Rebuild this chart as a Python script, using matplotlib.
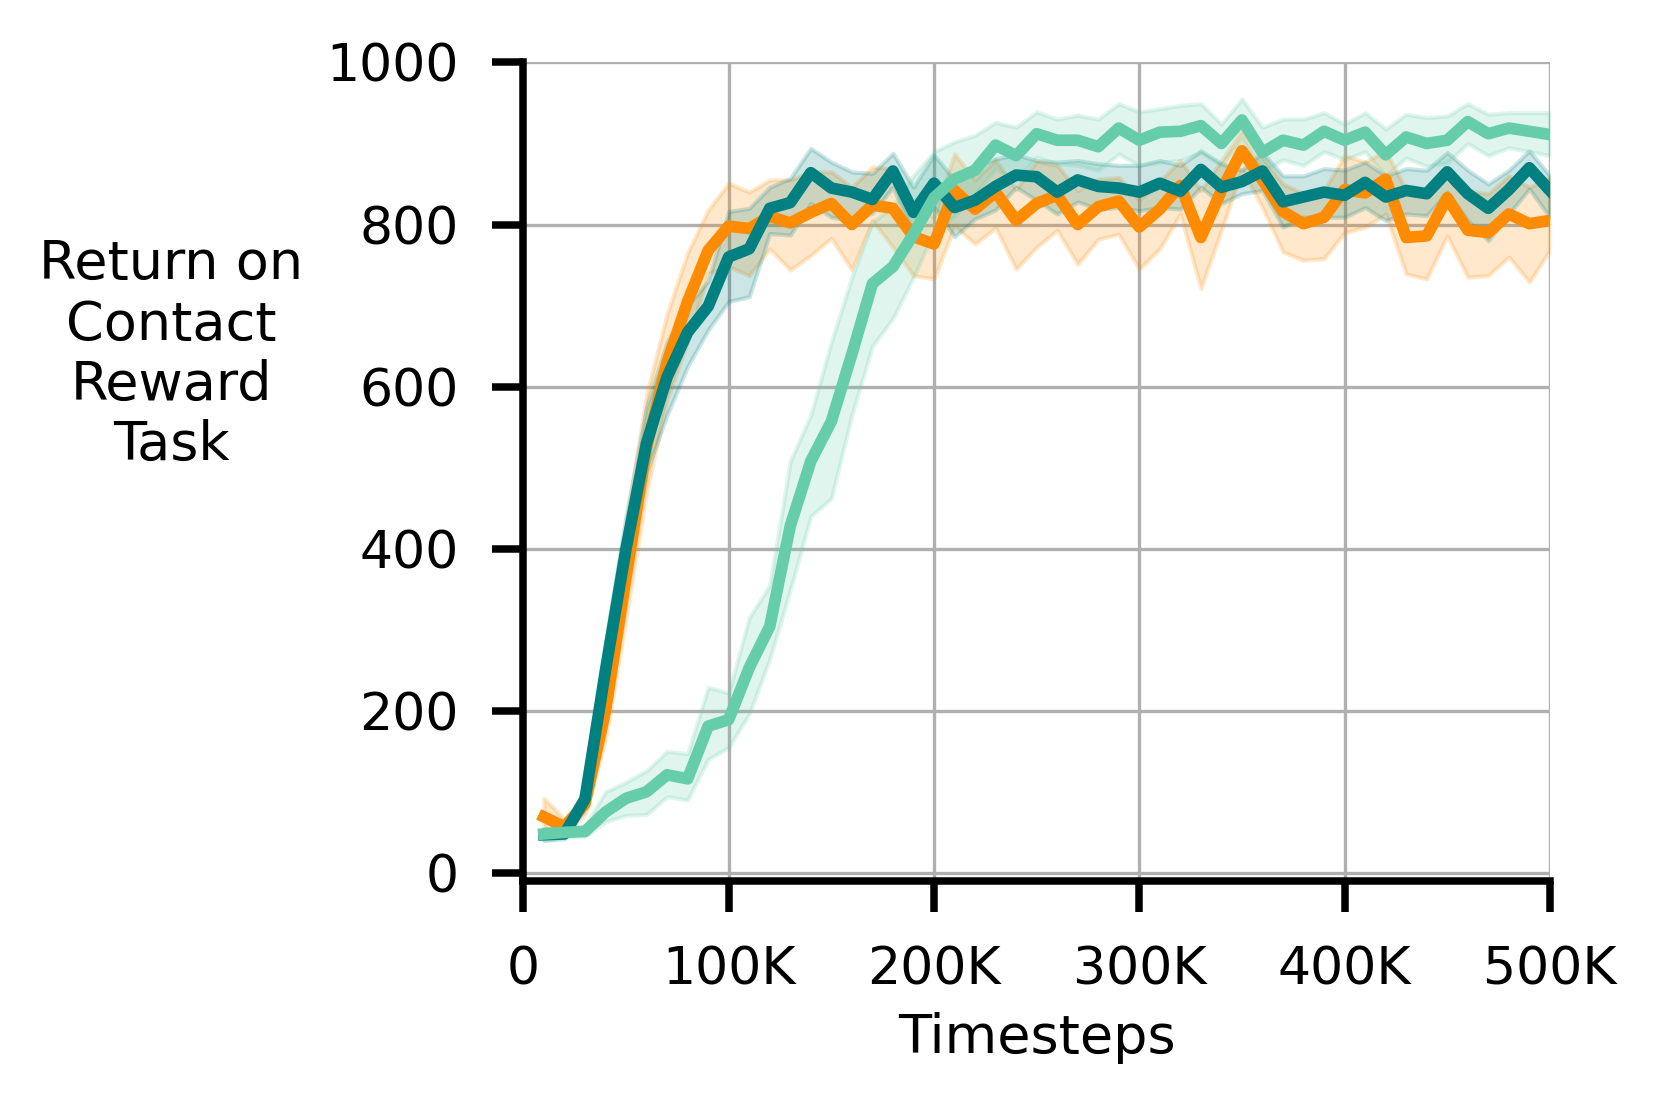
import numpy as np
import matplotlib
matplotlib.use("Agg")
import matplotlib.pyplot as plt

# --- data ---
steps = np.arange(1, 51) * 10000

orange_mean = [69, 57, 85, 200, 365, 525, 630, 705, 768, 798,
               795, 810, 802, 815, 826, 800, 824, 820, 785, 776,
               842, 819, 840, 805, 826, 836, 800, 822, 829, 797,
               819, 848, 784, 842, 891, 855, 816, 801, 809, 843,
               839, 856, 784, 786, 833, 793, 790, 813, 801, 805]
orange_hi = [92, 66, 96, 245, 430, 590, 690, 765, 818, 851,
             840, 855, 855, 865, 865, 846, 871, 869, 815, 810,
             887, 855, 880, 843, 878, 873, 842, 856, 858, 830,
             854, 879, 842, 879, 916, 883, 850, 838, 842, 885,
             877, 891, 842, 842, 865, 842, 838, 860, 846, 858]
orange_lo = [55, 47, 72, 165, 315, 470, 585, 655, 740, 748,
             737, 770, 744, 762, 783, 744, 805, 772, 737, 733,
             798, 776, 796, 745, 772, 793, 751, 782, 788, 745,
             770, 813, 721, 793, 868, 821, 766, 756, 758, 790,
             797, 813, 739, 733, 786, 735, 737, 760, 729, 768]

teal_mean = [47, 48, 91, 250, 400, 530, 612, 667, 699, 760,
             770, 820, 827, 864, 845, 840, 831, 866, 815, 851,
             821, 830, 847, 861, 859, 840, 855, 847, 845, 840,
             851, 841, 868, 846, 853, 866, 828, 834, 840, 836,
             852, 834, 842, 838, 865, 838, 820, 843, 870, 842]
teal_hi = [54, 55, 105, 285, 440, 575, 655, 700, 730, 816,
           820, 846, 857, 894, 877, 865, 863, 888, 846, 886,
           855, 871, 881, 886, 879, 877, 879, 875, 873, 873,
           879, 873, 891, 875, 867, 889, 860, 860, 869, 867,
           877, 860, 869, 867, 889, 867, 850, 867, 891, 860]
teal_lo = [40, 42, 80, 220, 365, 495, 565, 625, 670, 705,
           711, 789, 787, 826, 809, 805, 814, 846, 789, 822,
           785, 807, 818, 846, 830, 813, 828, 819, 821, 817,
           821, 819, 846, 826, 838, 842, 797, 809, 809, 809,
           821, 805, 813, 811, 840, 805, 780, 813, 844, 809]

green_mean = [48, 50, 51, 75, 92, 100, 121, 116, 181, 189,
              253, 304, 428, 508, 557, 640, 727, 748, 788, 833,
              856, 867, 898, 885, 912, 904, 904, 896, 919, 904,
              914, 915, 922, 900, 929, 889, 904, 898, 915, 904,
              914, 886, 908, 900, 904, 927, 912, 919, 915, 911]
green_hi = [55, 57, 58, 100, 112, 126, 150, 147, 229, 222,
            315, 355, 508, 565, 655, 735, 803, 822, 860, 890,
            902, 910, 926, 920, 939, 930, 935, 930, 949, 939,
            943, 947, 949, 924, 955, 920, 930, 930, 938, 924,
            938, 918, 936, 932, 934, 949, 936, 938, 938, 938]
green_lo = [40, 44, 45, 63, 71, 72, 94, 90, 140, 155,
            196, 264, 349, 440, 462, 565, 650, 684, 735, 791,
            810, 838, 869, 854, 883, 875, 873, 867, 887, 873,
            877, 879, 889, 873, 906, 865, 880, 873, 890, 880,
            890, 860, 882, 872, 876, 900, 885, 895, 890, 885]

xtick_vals = [0, 100000, 200000, 300000, 400000, 500000]
xtick_labels = ["0", "100K", "200K", "300K", "400K", "500K"]
ytick_vals = [0, 200, 400, 600, 800, 1000]

COLORS = {'orange': '#FF8C00', 'teal': '#008080', 'green': '#66CDAA'}

plt.rcParams['font.family'] = 'DejaVu Sans'

fig = plt.figure(figsize=(1661 / 300, 1107 / 300), dpi=300)
ax = fig.add_axes([0.3151, 0.2042, 0.6180, 0.7394])

series = [(orange_mean, orange_lo, orange_hi, COLORS['orange']),
          (teal_mean, teal_lo, teal_hi, COLORS['teal']),
          (green_mean, green_lo, green_hi, COLORS['green'])]
# shaded bands first, then the mean lines on top
for mean, lo, hi, c in series:
    ax.fill_between(steps, lo, hi, color=c, alpha=0.2, linewidth=1.0)
for mean, lo, hi, c in series:
    ax.plot(steps, mean, color=c, linewidth=2.8)

ax.set_xlim(0, 500000)
ax.set_ylim(-10, 1000)
ax.set_xticks(xtick_vals)
ax.set_xticklabels(xtick_labels)
ax.set_yticks(ytick_vals)

ax.grid(True, color='#b0b0b0', linewidth=0.8)
ax.set_axisbelow(True)

for side in ['top', 'right']:
    ax.spines[side].set_visible(False)
for side in ['left', 'bottom']:
    ax.spines[side].set_linewidth(1.8)
    ax.spines[side].set_capstyle('projecting')

ax.tick_params(axis='both', length=7.5, width=1.8, pad=8, labelsize=12.5)

ax.set_xlabel("Timesteps", fontsize=13)
ax.set_ylabel("Return on\nContact\nReward\nTask", fontsize=13, rotation=0,
              ha='center', va='center', linespacing=1.2)
ax.yaxis.set_label_coords(-0.343, 0.643)

fig.savefig("out.png", dpi=300)
